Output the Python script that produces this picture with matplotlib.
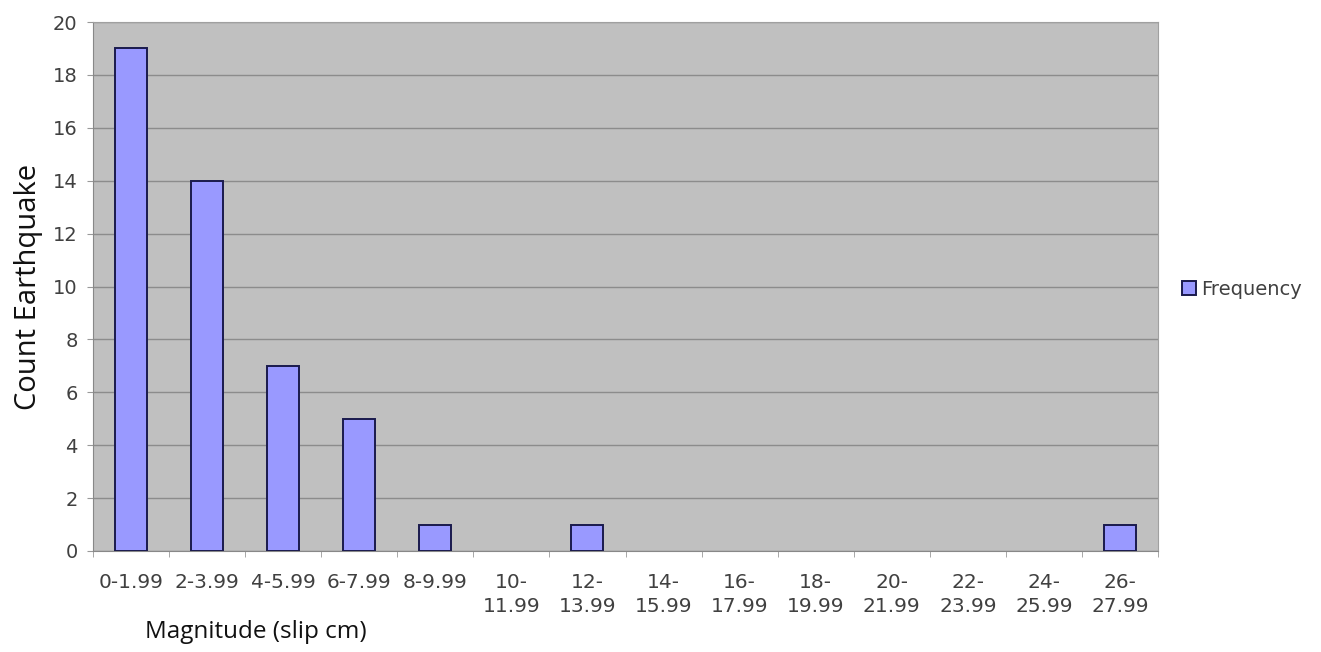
import numpy as np
import matplotlib.pyplot as plt

# Slip-magnitude bins and counts
bins = ["0-1.99", "2-3.99", "4-5.99", "6-7.99", "8-9.99", "10-\n11.99", "12-\n13.99",
        "14-\n15.99", "16-\n17.99", "18-\n19.99", "20-\n21.99", "22-\n23.99", "24-\n25.99",
        "26-\n27.99"]
counts = [19, 14, 7, 5, 1, 0, 1, 0, 0, 0, 0, 0, 0, 1]

fig = plt.figure(figsize=(13.21, 6.52), dpi=100)
ax = fig.add_axes([93 / 1321, 1 - 551 / 652, 1065 / 1321, 529 / 652])
ax.set_facecolor("#c0c0c0")

x = np.arange(len(bins))
# empty bins get no outline
widths = [1.4 if c > 0 else 0 for c in counts]
ax.bar(x, counts, width=0.42, color="#9999ff", edgecolor="#1a1a4d", linewidth=widths,
       label="Frequency", zorder=3)

ax.set_xlim(-0.5, len(bins) - 0.5)
ax.set_ylim(0, 20)
ax.set_yticks(range(0, 21, 2))
ax.yaxis.grid(True, color="#8c8c8c", linewidth=1.0, zorder=0)

ax.set_xticks(x)
ax.set_xticklabels(bins, fontsize=14.5, color="#404040", linespacing=1.3)
ax.set_xticks(np.arange(-0.5, len(bins), 1), minor=True)
ax.tick_params(axis="x", which="major", length=0, pad=16)
ax.tick_params(axis="x", which="minor", length=4, color="#999999")
ax.tick_params(axis="y", length=4, color="#999999", labelsize=14, labelcolor="#404040", pad=7)

for side in ["top", "right"]:
    ax.spines[side].set_color("#a0a0a0")
for side in ["left", "bottom"]:
    ax.spines[side].set_color("#888888")

ax.set_xlabel("Magnitude (slip cm)", fontsize=17.5, family="Open Sans", color="#111111")
ax.xaxis.set_label_coords(0.153, -0.13)
ax.set_ylabel("Count Earthquake", fontsize=21, family="Open Sans", color="#111111")
ax.yaxis.set_label_coords(-0.047, 0.5)

ax.legend(loc="center left", bbox_to_anchor=(1.006, 0.495), frameon=False, fontsize=14,
          handlelength=0.7, handleheight=0.7, handletextpad=0.3, labelcolor="#404040")

fig.savefig("out.png", dpi=100)
